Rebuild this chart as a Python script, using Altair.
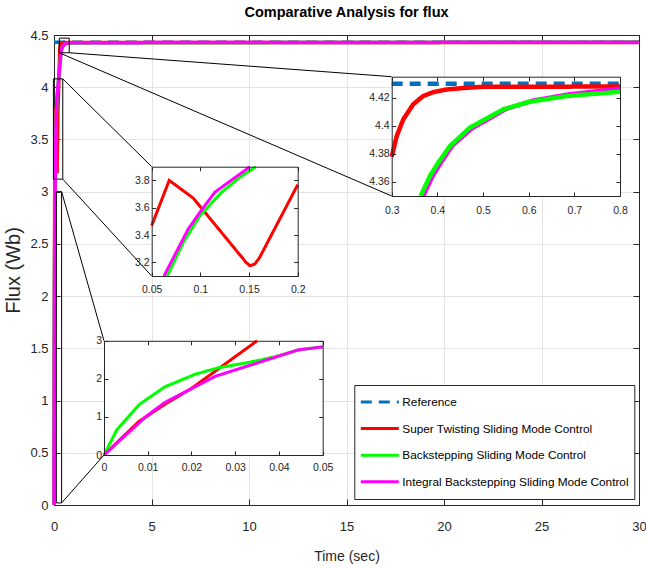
import altair as alt
import pandas as pd

FONT = "Liberation Sans"
DARK = "#262626"

SERIES = ["Reference", "Super Twisting Sliding Mode Control",
          "Backstepping Sliding Mode Control", "Integral Backstepping Sliding Mode Control"]
COLORS = ["#0072BD", "#FF0000", "#00FF00", "#FF00FF"]
DASHES = [[11, 7], [1, 0], [1, 0], [1, 0]]

REF_T = [0, 0.3, 0.8, 30]
REF_V = [4.43, 4.43, 4.43, 4.43]
ST_T = [0, 0.0079, 0.0139, 0.02, 0.035, 0.05, 0.068, 0.0927, 0.1407, 0.1469,
        0.151, 0.156, 0.161, 0.2, 0.3, 0.311, 0.3254, 0.347, 0.369, 0.391,
        0.42, 0.464, 0.5, 0.8, 30]
ST_V = [0, 0.874, 1.33, 1.75, 3.0, 3.469, 3.8, 3.67, 3.254, 3.2,
        3.175, 3.188, 3.237, 3.768, 4.378, 4.3927, 4.4046, 4.4153, 4.4212, 4.424,
        4.4259, 4.4271, 4.4278, 4.428, 4.428]
BS_T = [0, 0.0029, 0.0081, 0.0139, 0.0208, 0.0261, 0.033, 0.0391, 0.0444, 0.05,
        0.066, 0.0825, 0.0996, 0.1219, 0.1407, 0.157, 0.3634, 0.3838, 0.402, 0.4276,
        0.4713, 0.5442, 0.6026, 0.683, 0.8, 30]
BS_V = [0, 0.656, 1.33, 1.79, 2.12, 2.29, 2.43, 2.58, 2.76, 2.84,
        3.1, 3.347, 3.542, 3.713, 3.823, 3.9, 4.35, 4.3643, 4.3738, 4.3856,
        4.3987, 4.4117, 4.4172, 4.4212, 4.4243, 4.432]
IB_T = [0, 0.0098, 0.0139, 0.0255, 0.0444, 0.05, 0.0626, 0.0876, 0.0996, 0.115,
        0.151, 0.369, 0.39, 0.408, 0.433, 0.475, 0.55, 0.61, 0.69, 0.8, 30]
IB_V = [0, 1.03, 1.38, 2.07, 2.76, 2.84, 3.1, 3.445, 3.567, 3.714,
        3.9, 4.35, 4.3645, 4.374, 4.386, 4.398, 4.412, 4.418, 4.4225, 4.4264, 4.431]

MAIN_XDOM = [0, 30]
MAIN_YDOM = [0, 4.5]
MAIN_XTICKS = [0, 5, 10, 15, 20, 25, 30]
MAIN_YTICKS = [0, 0.5, 1, 1.5, 2, 2.5, 3, 3.5, 4, 4.5]

# zoom boxes on the main axes (data units)
BOX_X1 = [0.27, -0.03, 0.12]
BOX_X2 = [0.78, 0.45, 0.39]
BOX_Y1 = [4.33, 3.12, 0.02]
BOX_Y2 = [4.47, 4.08, 3.0]

INSET_XDOM = [[0.3, 0.8], [0.05, 0.2], [0, 0.05]]
INSET_YDOM = [[4.35, 4.435], [3.1, 3.9], [0, 3]]
INSET_XTICKS = [[0.3, 0.4, 0.5, 0.6, 0.7, 0.8], [0.05, 0.1, 0.15, 0.2],
                [0, 0.01, 0.02, 0.03, 0.04, 0.05]]
INSET_YTICKS = [[4.36, 4.38, 4.4, 4.42], [3.2, 3.4, 3.6, 3.8], [0, 1, 2, 3]]

# layout (pixels inside the plot area)
W, H = 585, 470
INSET_LEFT = [337.7, 97.7, 50]
INSET_RIGHT = [566, 243.7, 268.7]
INSET_TOP = [41.7, 131.7, 305.8]
INSET_BOTTOM = [161, 241, 420]
INSET_LW = [4.5, 3, 3]
INSET_LABPAD = [9.5, 8, 7.5]
# drawing order of the series (last one on top)
ORDER_MAIN = [0, 1, 2, 3]
ORDER_INSET = [[0, 1, 3, 2], [0, 1, 2, 3], [0, 1, 2, 3]]

SERIES_DATA = [(REF_T, REF_V), (ST_T, ST_V), (BS_T, BS_V), (IB_T, IB_V)]


def frame_for(order):
    rows = []
    for i in order:
        ts, vs = SERIES_DATA[i]
        for t, v in zip(ts, vs):
            rows.append({"series": SERIES[i], "t": t, "v": v})
    return pd.DataFrame(rows)


legend = alt.Legend(orient="none", legendX=300.3, legendY=350, title="",
                    symbolType="stroke", symbolSize=1444, symbolStrokeWidth=3,
                    labelFont=FONT, labelFontSize=11.8, labelColor="black",
                    strokeColor=DARK, fillColor="white", padding=5,
                    rowPadding=2.6, clipHeight=24, labelOffset=2,
                    cornerRadius=0, labelLimit=400)
color_enc = alt.Color("series:N", scale=alt.Scale(domain=SERIES, range=COLORS), legend=legend)
dash_enc = alt.StrokeDash("series:N", scale=alt.Scale(domain=SERIES, range=DASHES), legend=legend)


def axis(orient, offset, values, labels=False, domain=False, ticks=False, tick_size=0,
         z=0, label_size=13, label_pad=0, grid=False, **extra):
    kw = dict(orient=orient, offset=offset, values=values, labels=labels, domain=domain,
              ticks=ticks, tickSize=tick_size, grid=grid, zindex=z,
              domainColor=DARK, tickColor=DARK, domainWidth=1, tickWidth=1,
              labelFlush=False, labelOverlap=False, format="~g",
              labelFontSize=label_size, labelPadding=label_pad, labelColor=DARK,
              labelFont=FONT, gridColor="#e3e3e3", gridWidth=1)
    kw.setdefault("title", "")
    kw.update(extra)
    return alt.Axis(**kw)


layers = []

# ---- main axes -------------------------------------------------------------
msx = alt.Scale(domain=MAIN_XDOM, nice=False, zero=False)
msy = alt.Scale(domain=MAIN_YDOM, nice=False, zero=False)

main_lines = alt.Chart(frame_for(ORDER_MAIN)).mark_line(strokeWidth=3.5).encode(
    x=alt.X("t:Q", scale=msx,
            axis=axis("bottom", 0, MAIN_XTICKS, labels=True, domain=True, grid=True,
                      label_size=13, label_pad=15, title="Time (sec)",
                      titleFont=FONT, titleFontSize=14, titleColor=DARK,
                      titleFontWeight="normal", titleBaseline="alphabetic", titleY=55)),
    y=alt.Y("v:Q", scale=msy,
            axis=axis("left", 0, MAIN_YTICKS, labels=True, domain=True, grid=True,
                      label_size=13, label_pad=6, title="Flux (Wb)",
                      titleFont=FONT, titleFontSize=20, titleColor=DARK,
                      titleFontWeight="normal", titleX=-31, titleY=235)),
    color=color_enc, strokeDash=dash_enc,
)
layers.append(main_lines)

box_df = pd.DataFrame({"x1": BOX_X1, "x2": BOX_X2, "y1": BOX_Y1, "y2": BOX_Y2})
boxes = alt.Chart(box_df).mark_rect(fillOpacity=0, stroke="black", strokeWidth=1).encode(
    x=alt.X("x1:Q", scale=msx, axis=axis("top", -H, MAIN_XTICKS, ticks=True, tick_size=6)),
    x2="x2:Q",
    y=alt.Y("y1:Q", scale=msy, axis=axis("right", -W, MAIN_YTICKS, ticks=True, tick_size=6)),
    y2="y2:Q",
)
layers.append(boxes)


def to_main(px, py):
    return px / W * (MAIN_XDOM[1] - MAIN_XDOM[0]), (H - py) / H * (MAIN_YDOM[1] - MAIN_YDOM[0])


conn = []
for (bx, by), (px, py) in [
    ((BOX_X2[0], BOX_Y1[0]), (INSET_LEFT[0], INSET_TOP[0])),
    ((BOX_X1[0], BOX_Y1[0]), (INSET_LEFT[0], INSET_BOTTOM[0])),
    ((BOX_X2[1], BOX_Y2[1]), (INSET_LEFT[1], INSET_TOP[1])),
    ((BOX_X2[1], BOX_Y1[1]), (INSET_LEFT[1], INSET_BOTTOM[1])),
    ((BOX_X2[2], BOX_Y2[2]), (INSET_LEFT[2], INSET_TOP[2])),
    ((BOX_X2[2], BOX_Y1[2]), (INSET_LEFT[2], INSET_BOTTOM[2])),
]:
    ex, ey = to_main(px, py)
    conn.append({"x1": bx, "y1": by, "x2": ex, "y2": ey})
conn_df = pd.DataFrame(conn)
connectors = alt.Chart(conn_df).mark_rule(color="black", strokeWidth=1).encode(
    x=alt.X("x1:Q", scale=msx, axis=axis("bottom", -H, MAIN_XTICKS, domain=True, ticks=True, tick_size=6)),
    x2="x2:Q",
    y=alt.Y("y1:Q", scale=msy, axis=axis("left", -W, MAIN_YTICKS, domain=True, ticks=True, tick_size=6)),
    y2="y2:Q",
)
layers.append(connectors)

# ---- insets -----------------------------------------------------------------
for k in range(3):
    xd, yd = INSET_XDOM[k], INSET_YDOM[k]
    L, R, T, B = INSET_LEFT[k], INSET_RIGHT[k], INSET_TOP[k], INSET_BOTTOM[k]
    sx = alt.Scale(domain=xd, range=[L, R], nice=False, zero=False)
    sy = alt.Scale(domain=yd, range=[B, T], nice=False, zero=False)
    rect_df = pd.DataFrame({"x1": [xd[0]], "x2": [xd[1]], "y1": [yd[0]], "y2": [yd[1]]})
    eps = 1e-9
    d = frame_for(ORDER_INSET[k])
    sub = d[(d.t >= xd[0] - eps) & (d.t <= xd[1] + eps) &
            (d.v >= yd[0] - eps) & (d.v <= yd[1] + eps)]

    bg = alt.Chart(rect_df).mark_rect(fill="white").encode(
        x=alt.X("x1:Q", scale=sx,
                axis=axis("bottom", B - H, INSET_XTICKS[k], labels=True, domain=True,
                          z=1, label_size=10.5, label_pad=INSET_LABPAD[k])),
        x2="x2:Q",
        y=alt.Y("y1:Q", scale=sy,
                axis=axis("left", -L, INSET_YTICKS[k], labels=True, domain=True,
                          z=1, label_size=10.5, label_pad=2.5)),
        y2="y2:Q",
    )
    lines = alt.Chart(sub).mark_line(strokeWidth=INSET_LW[k]).encode(
        x=alt.X("t:Q", scale=sx,
                axis=axis("top", -B, INSET_XTICKS[k], ticks=True, tick_size=4, z=1)),
        y=alt.Y("v:Q", scale=sy,
                axis=axis("right", L - W, INSET_YTICKS[k], ticks=True, tick_size=4, z=1)),
        color=color_enc, strokeDash=dash_enc,
    )
    frame = alt.Chart(rect_df).mark_rect(fillOpacity=0).encode(
        x=alt.X("x1:Q", scale=sx,
                axis=axis("bottom", T - H, INSET_XTICKS[k], domain=True, ticks=True, tick_size=4, z=1)),
        x2="x2:Q",
        y=alt.Y("y1:Q", scale=sy,
                axis=axis("left", -R, INSET_YTICKS[k], domain=True, ticks=True, tick_size=4, z=1)),
        y2="y2:Q",
    )
    layers += [bg, lines, frame]

chart = alt.layer(*layers).resolve_scale(x="independent", y="independent").properties(
    width=W, height=H,
    title=alt.TitleParams("Comparative Analysis for flux", font=FONT, fontSize=14.5,
                          fontWeight="bold", color="black", anchor="middle", offset=9),
    autosize=alt.AutoSizeParams(type="none"),
    padding={"left": 54, "top": 35, "right": 7, "bottom": 63},
).configure(font=FONT).configure_view(strokeWidth=0)

chart.save("out.html", embed_options={"renderer": "svg", "actions": False})
